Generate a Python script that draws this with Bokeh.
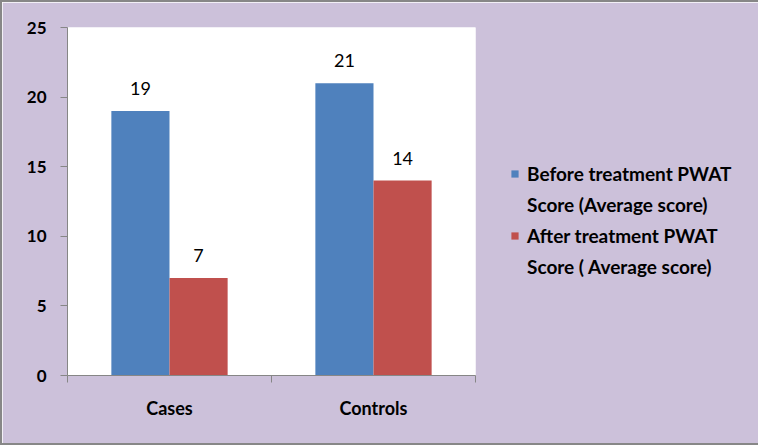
from bokeh.plotting import figure
from bokeh.models import ColumnDataSource, FixedTicker, Legend, LegendItem, Range1d
from bokeh.core.properties import value
from bokeh.embed import file_html
from bokeh.resources import INLINE

categories = ["Cases", "Controls"]
before = [19, 21]
after = [7, 14]
series_label_lines = [["Before treatment PWAT", "Score (Average score)"],
                      ["After treatment PWAT", "Score ( Average score)"]]
y_ticks = [0, 5, 10, 15, 20, 25]

BLUE = "#4F81BD"
RED = "#C0504D"
BG = "#CCC1DA"
AXIS = "#868686"
FONT = "Lato"

idx = list(range(len(categories)))
bar_w = 0.285
src = ColumnDataSource(dict(
    xb=[i + 0.5 - bar_w / 2 for i in idx],
    xa=[i + 0.5 + bar_w / 2 for i in idx],
    before=before,
    after=after,
    lb=[str(v) for v in before],
    la=[str(v) for v in after],
))

p = figure(output_backend="svg", toolbar_location=None,
           frame_width=408, frame_height=348,
           x_range=Range1d(0, len(categories)), y_range=Range1d(0, 25),
           min_border_left=65, min_border_top=25, min_border_bottom=68,
           min_border_right=281)
p.styles = {"border": "2px solid #878787"}
p.background_fill_color = "white"
p.border_fill_color = BG
p.outline_line_color = None
p.xgrid.grid_line_color = None
p.ygrid.grid_line_color = None

rb = p.vbar(x="xb", top="before", width=bar_w, source=src, color=BLUE, line_color=None)
ra = p.vbar(x="xa", top="after", width=bar_w, source=src, color=RED, line_color=None)
# invisible renderer used for the second line of each legend entry
blank = p.vbar(x="xb", top="before", width=bar_w, source=src,
               fill_alpha=0, line_alpha=0)

for xcol, ycol, lcol in (("xb", "before", "lb"), ("xa", "after", "la")):
    p.text(x=xcol, y=ycol, text=lcol, source=src, y_offset=-16,
           text_align="center", text_baseline="bottom",
           text_font=value(FONT), text_font_size="18px", text_color="black")

# y axis
ya = p.yaxis[0]
ya.ticker = FixedTicker(ticks=y_ticks, minor_ticks=[])
ya.axis_line_color = AXIS
ya.major_tick_line_color = AXIS
ya.major_tick_out = 7
ya.major_tick_in = 0
ya.major_label_standoff = 14
ya.major_label_text_font = FONT
ya.major_label_text_font_style = "bold"
ya.major_label_text_font_size = "17px"
ya.major_label_text_color = "black"

# x axis
xa = p.xaxis[0]
xa.ticker = FixedTicker(ticks=[i + 0.5 for i in idx],
                        minor_ticks=list(range(len(categories) + 1)))
xa.major_label_overrides = {i + 0.5: c for i, c in zip(idx, categories)}
xa.axis_line_color = AXIS
xa.major_tick_line_color = None
xa.major_tick_out = 0
xa.major_tick_in = 0
xa.minor_tick_line_color = AXIS
xa.minor_tick_out = 7
xa.minor_tick_in = 0
xa.major_label_standoff = 14
xa.major_label_text_font = FONT
xa.major_label_text_font_style = "bold"
xa.major_label_text_font_size = "18px"
xa.major_label_text_color = "black"

items = []
for lines, r in zip(series_label_lines, (rb, ra)):
    items.append(LegendItem(label=lines[0], renderers=[r]))
    items.append(LegendItem(label=lines[1], renderers=[blank]))

legend = Legend(items=items, location=(35, 97), orientation="vertical",
                background_fill_alpha=0, border_line_color=None,
                glyph_width=9, glyph_height=9, label_standoff=8,
                label_height=22, spacing=8, padding=0, margin=0,
                label_text_font=FONT, label_text_font_style="bold",
                label_text_font_size="19px", label_text_color="black")
p.add_layout(legend, "right")

open("out.html", "w").write(file_html(p, INLINE))
